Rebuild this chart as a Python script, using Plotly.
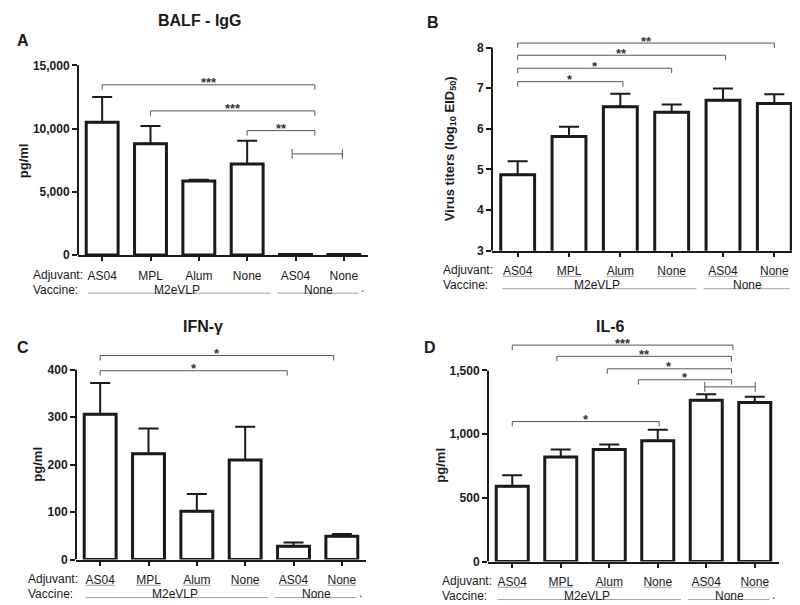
import plotly.graph_objects as go

W, H = 800, 605
FONT = "Liberation Sans, Arial, sans-serif"
INK = "#1a1a1a"
GREY = "#555555"
LIGHT = "#a0a0a0"

# ---------------- data ----------------
adjuvant = ["AS04", "MPL", "Alum", "None", "AS04", "None"]
vaccine = ["M2eVLP", "None"]
vaccine_pos = [1.55, 4.47]
x_idx = [0, 1, 2, 3, 4, 5]

igg_mean = [10500, 8800, 5860, 7210, 40, 40]
igg_err = [2000, 1400, 100, 1830, 0, 0]
virus_mean = [4.87, 5.81, 6.54, 6.41, 6.70, 6.62]
virus_err = [0.33, 0.24, 0.32, 0.19, 0.29, 0.23]
ifn_mean = [306, 223, 102, 210, 28, 49]
ifn_err = [66, 53, 36, 70, 8, 5]
il6_mean = [590, 820, 879, 949, 1267, 1249]
il6_err = [87, 59, 39, 85, 46, 44]

igg_ticks = [0, 5000, 10000, 15000]
igg_ticktext = ["0", "5,000", "10,000", "15,000"]
virus_ticks = [3, 4, 5, 6, 7, 8]
virus_ticktext = ["3", "4", "5", "6", "7", "8"]
ifn_ticks = [0, 100, 200, 300, 400]
ifn_ticktext = ["0", "100", "200", "300", "400"]
il6_ticks = [0, 500, 1000, 1500]
il6_ticktext = ["0", "500", "1,000", "1,500"]

# significance brackets: (from, to, level, label, style)
igg_brackets = [(0, 4.4, 13460, "***", "down"), (1, 4.4, 11400, "***", "down"),
                (3, 4.4, 9840, "**", "down"), (3.93, 4.97, 8000, "", "both")]
virus_brackets = [(0, 5, 8.11, "**", "down"), (0, 4.05, 7.81, "**", "down"),
                  (0, 3, 7.49, "*", "down"), (0, 2.05, 7.16, "*", "down")]
ifn_brackets = [(0, 4.83, 430, "*", "down"), (0, 3.87, 398, "*", "down")]
il6_brackets = [(0, 4.55, 1699, "***", "down"), (0.92, 4.52, 1611, "**", "down"),
                (1.96, 4.52, 1513, "*", "down"), (2.6, 4.52, 1427, "*", "down"),
                (3.97, 5.01, 1371, "", "both"), (0, 3.03, 1099, "*", "down")]

# ---------------- layout (pixel geometry) ----------------
panels = [
    dict(letter="A", title="BALF - IgG", ytitle="pg/ml", mean=igg_mean, err=igg_err,
         ticks=igg_ticks, ticktext=igg_ticktext, base=0, top=15000,
         xpx=(70, 360), ybase=250, ytop=58, atop=45, brackets=igg_brackets, underline=False,
         title_xy=(192, 13), letter_xy=(15, 33), ytitle_xy=(15, 155), adj_x=23),
    dict(letter="B", title=None, ytitle="Virus titers (log<sub>10</sub> EID<sub>50</sub>)",
         mean=virus_mean, err=virus_err, ticks=virus_ticks, ticktext=virus_ticktext, base=3, top=8,
         xpx=(484, 792), ybase=245.5, ytop=40, atop=25, brackets=virus_brackets, underline=True,
         title_xy=None, letter_xy=(425, 15), ytitle_xy=(442, 143), adj_x=433),
    dict(letter="C", title="IFN-γ", ytitle="pg/ml", mean=ifn_mean, err=ifn_err,
         ticks=ifn_ticks, ticktext=ifn_ticktext, base=0, top=400,
         xpx=(68, 358), ybase=558, ytop=366, atop=338, brackets=ifn_brackets, underline=True,
         title_xy=(195, 322), letter_xy=(15, 343), ytitle_xy=(30, 462), adj_x=18),
    dict(letter="D", title="IL-6", ytitle="pg/ml", mean=il6_mean, err=il6_err,
         ticks=il6_ticks, ticktext=il6_ticktext, base=0, top=1500,
         xpx=(480, 771), ybase=560, ytop=366.7, atop=328, brackets=il6_brackets, underline=True,
         title_xy=(602, 322), letter_xy=(422, 343), ytitle_xy=(433, 463), adj_x=432),
]

# Arial advance widths (em) for the label glyphs, used to size the underlines
CHAR_W = {"A": .667, "S": .667, "0": .556, "4": .556, "M": .833, "P": .667, "L": .556,
          "l": .222, "u": .556, "m": .833, "N": .722, "o": .556, "n": .556, "e": .556}


def px(x):
    return x / W


def py(y):
    return 1 - y / H


fig = go.Figure()
shapes = []
annotations = []

for i, p in enumerate(panels, start=1):
    xa, ya = f"x{i}", f"y{i}"
    xk, yk = f"xaxis{i}", f"yaxis{i}"
    span_px = p["ybase"] - p["atop"]
    rtop = p["base"] + (p["top"] - p["base"]) * span_px / (p["ybase"] - p["ytop"])
    upp = (rtop - p["base"]) / span_px  # data units per pixel
    px_per_cat = (p["xpx"][1] - p["xpx"][0]) / 6.0

    fig.add_trace(go.Bar(
        x=x_idx, y=p["mean"], xaxis=xa, yaxis=ya, width=0.66,
        marker=dict(color="white", line=dict(color=INK, width=3)),
        error_y=dict(type="data", symmetric=False, array=p["err"], arrayminus=[0] * 6,
                     color=INK, thickness=2, width=10),
        showlegend=False, hoverinfo="y",
    ))

    fig.update_layout({
        xk: dict(domain=[px(p["xpx"][0]), px(p["xpx"][1])], anchor=ya, range=[-0.5, 5.5],
                 showline=True, linecolor=INK, linewidth=2, showgrid=False, zeroline=False,
                 tickvals=x_idx, ticktext=adjuvant, ticks="outside", ticklen=4, tickwidth=1.5,
                 tickcolor=INK, ticklabelstandoff=4,
                 tickfont=dict(family=FONT, size=12, color=INK), fixedrange=True),
        yk: dict(domain=[py(p["ybase"]), py(p["atop"])], anchor=xa, range=[p["base"], rtop],
                 showline=False, showgrid=False, zeroline=False,
                 tickvals=p["ticks"], ticktext=[f"<b>{t}</b>" for t in p["ticktext"]],
                 ticks="outside", ticklen=5, tickwidth=2, tickcolor=INK,
                 tickfont=dict(family=FONT, size=12, color=INK), fixedrange=True),
    })

    # y axis line from base to top tick
    shapes.append(dict(type="line", xref="paper", yref=ya, x0=px(p["xpx"][0]), x1=px(p["xpx"][0]),
                       y0=p["base"], y1=p["top"], line=dict(color=INK, width=2)))

    # thin grey underlines below the adjuvant labels
    if p["underline"]:
        uy = py(p["ybase"] + 26)
        for xi, lab in zip(x_idx, adjuvant):
            half = sum(CHAR_W.get(c, .556) for c in lab) * 12 / 2 / px_per_cat
            shapes.append(dict(type="line", xref=xa, yref="paper", x0=xi - half, x1=xi + half,
                               y0=uy, y1=uy, line=dict(color=LIGHT, width=1)))

    # significance brackets
    t = 5 * upp
    for (a, b, lvl, lab, style) in p["brackets"]:
        if style == "down":
            path = f"M {a},{lvl - t} L {a},{lvl} L {b},{lvl} L {b},{lvl - t}"
        else:
            path = (f"M {a},{lvl} L {b},{lvl} M {a},{lvl - t} L {a},{lvl + t} "
                    f"M {b},{lvl - t} L {b},{lvl + t}")
        shapes.append(dict(type="path", xref=xa, yref=ya, path=path,
                           line=dict(color=GREY, width=1)))
        if lab:
            annotations.append(dict(x=(a + b) / 2, y=lvl, xref=xa, yref=ya, text=f"<b>{lab}</b>",
                                    showarrow=False, xanchor="center", yanchor="middle", yshift=2,
                                    font=dict(family=FONT, size=13, color="#333")))

    # row labels
    annotations.append(dict(x=px(p["adj_x"]), y=py(p["ybase"] + 20), xref="paper", yref="paper",
                            text="Adjuvant:", showarrow=False, xanchor="left", yanchor="middle",
                            font=dict(family=FONT, size=12, color=INK)))
    annotations.append(dict(x=px(p["adj_x"]), y=py(p["ybase"] + 35), xref="paper", yref="paper",
                            text="Vaccine:", showarrow=False, xanchor="left", yanchor="middle",
                            font=dict(family=FONT, size=12, color=INK)))
    for v, vx in zip(vaccine, vaccine_pos):
        annotations.append(dict(x=vx, y=py(p["ybase"] + 35), xref=xa, yref="paper", text=v,
                                showarrow=False, xanchor="center", yanchor="middle",
                                font=dict(family=FONT, size=12, color=INK)))
    ly = py(p["ybase"] + 38.5)
    shapes.append(dict(type="line", xref=xa, yref="paper", x0=-0.3, x1=3.48, y0=ly, y1=ly,
                       line=dict(color=LIGHT, width=1)))
    shapes.append(dict(type="line", xref=xa, yref="paper", x0=3.62, x1=5.3, y0=ly, y1=ly,
                       line=dict(color=LIGHT, width=1)))
    annotations.append(dict(x=5.38, y=ly, xref=xa, yref="paper", text=".", showarrow=False,
                            xanchor="center", yanchor="bottom", yshift=-4,
                            font=dict(family=FONT, size=12, color=INK)))

    # titles
    if p["title"]:
        annotations.append(dict(x=px(p["title_xy"][0]), y=py(p["title_xy"][1]), xref="paper",
                                yref="paper", text=f"<b>{p['title']}</b>", showarrow=False,
                                xanchor="center", yanchor="middle",
                                font=dict(family=FONT, size=16, color=INK)))
    annotations.append(dict(x=px(p["letter_xy"][0]), y=py(p["letter_xy"][1]), xref="paper",
                            yref="paper", text=f"<b>{p['letter']}</b>", showarrow=False,
                            xanchor="center", yanchor="middle",
                            font=dict(family=FONT, size=16, color=INK)))
    annotations.append(dict(x=px(p["ytitle_xy"][0]), y=py(p["ytitle_xy"][1]), xref="paper",
                            yref="paper", text=f"<b>{p['ytitle']}</b>", showarrow=False,
                            textangle=-90, xanchor="center", yanchor="middle",
                            font=dict(family=FONT, size=13, color=INK)))

fig.update_layout(
    width=W, height=H, margin=dict(l=0, r=0, t=0, b=0),
    paper_bgcolor="white", plot_bgcolor="white",
    shapes=shapes, annotations=annotations, bargap=0.3,
    font=dict(family=FONT, color=INK),
)

fig.write_html("out.html")
